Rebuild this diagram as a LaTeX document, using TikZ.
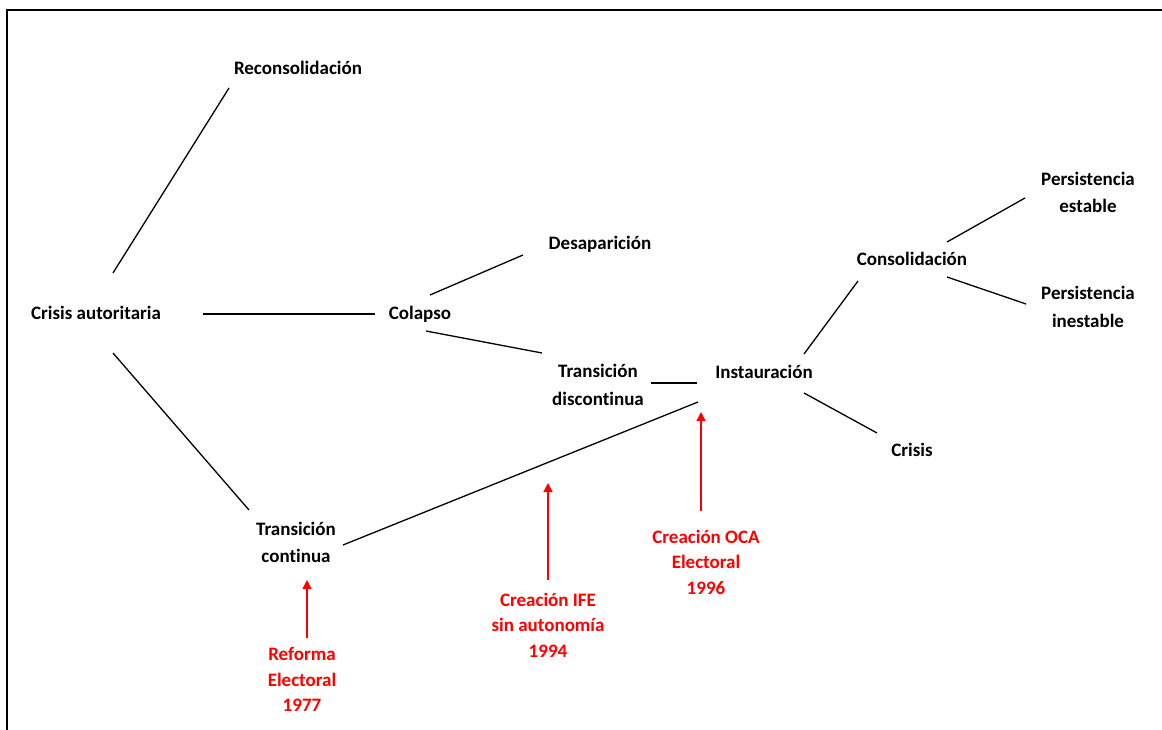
\documentclass[tikz,border=0pt]{standalone}
\usepackage{fontspec}
\setmainfont{Carlito}[Ligatures=NoCommon]
\usetikzlibrary{arrows.meta}
\definecolor{hitorojo}{RGB}{255,0,0}
\tikzset{
  etapa/.style={font=\bfseries\fontsize{19}{27.5}\selectfont, align=center, inner sep=0pt},
  hito/.style={font=\bfseries\fontsize{19}{25.5}\selectfont, align=center, inner sep=0pt, text=hitorojo},
  rama/.style={line width=1.3pt},
  empuje/.style={line width=1.3pt, draw=hitorojo, -{Triangle[width=9pt,length=9pt,fill=hitorojo]}}
}
\begin{document}
\begin{tikzpicture}[x=1pt,y=-1pt]
\useasboundingbox (0,0) rectangle (1162,730);
\draw[line width=2pt] (7,731) |- (1163,10);

% etapas
\node[etapa] (crisisaut) at (96,312.5) {Crisis autoritaria};
\node[etapa] (recon) at (298,68) {Reconsolidación};
\node[etapa] (colapso) at (420,314) {Colapso};
\node[etapa] (desap) at (600,244) {Desaparición};
\node[etapa] (transdisc) at (598,385) {Transición\\discontinua};
\node[etapa] (transcont) at (296,542.5) {Transición\\continua};
\node[etapa] (instaur) at (764,372) {Instauración};
\node[etapa] (consol) at (912,259) {Consolidación};
\node[etapa] (crisis) at (912,450) {Crisis};
\node[etapa] (persest) at (1088,192.5) {Persistencia\\estable};
\node[etapa] (persinest) at (1088,307) {Persistencia\\inestable};

% hitos
\node[hito] (reforma77) at (302,679.5) {Reforma\\Electoral\\1977};
\node[hito] (ife94) at (548,625) {Creación IFE\\sin autonomía\\1994};
\node[hito] (oca96) at (706,562) {Creación OCA\\Electoral\\1996};
\coordinate (hacia94) at (548,483);

% ramas
\draw[rama] ([shift={(17,-39.5)}]crisisaut.center) -- ([shift={(-69,20)}]recon.center);
\draw[rama] ([shift={(107,1.5)}]crisisaut.center) -- ([shift={(-45,0)}]colapso.center);
\draw[rama] ([shift={(17,40.5)}]crisisaut.center) -- ([shift={(-47,-32.5)}]transcont.center);
\draw[rama] ([shift={(10,-19)}]colapso.center) -- ([shift={(-77,11)}]desap.center);
\draw[rama] ([shift={(6,17)}]colapso.center) -- ([shift={(-56,-32)}]transdisc.center);
\draw[rama] ([shift={(53,-2)}]transdisc.center) -- ([shift={(-67,11)}]instaur.center);
\draw[rama] ([shift={(47,2.5)}]transcont.center) -- ([shift={(-66,30)}]instaur.center);
\draw[rama] ([shift={(40,-18)}]instaur.center) -- ([shift={(-54,22)}]consol.center);
\draw[rama] ([shift={(40,21)}]instaur.center) -- ([shift={(-35,-17)}]crisis.center);
\draw[rama] ([shift={(35,-17)}]consol.center) -- ([shift={(-63,5.5)}]persest.center);
\draw[rama] ([shift={(35,18)}]consol.center) -- ([shift={(-62,-3)}]persinest.center);

% flechas de los hitos
\draw[empuje] ([shift={(5,-41.5)}]reforma77.center) -- ([shift={(11,37.5)}]transcont.center);
\draw[empuje] ([shift={(0,-45)}]ife94.center) -- (hacia94);
\draw[empuje] ([shift={(-5,-51)}]oca96.center) -- ([shift={(-63,40)}]instaur.center);
\end{tikzpicture}
\end{document}
